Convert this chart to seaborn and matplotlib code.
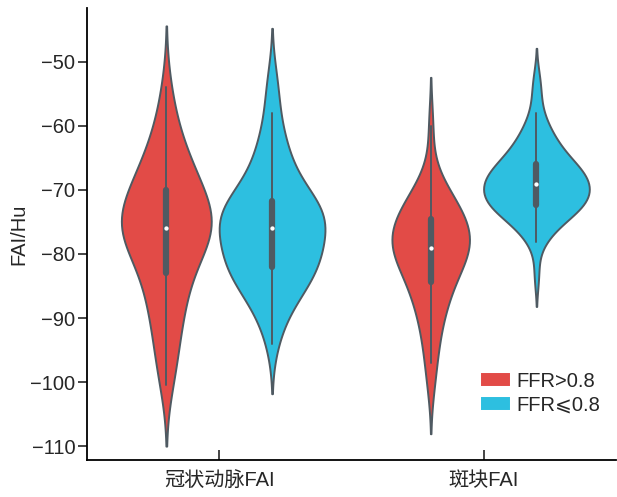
import numpy as np
import pandas as pd
import matplotlib
matplotlib.use("Agg")
import matplotlib.pyplot as plt
import seaborn as sns

# categories and groups
sites = ["冠状动脉FAI", "斑块FAI"]
groups = ["FFR>0.8", "FFR⩽0.8"]
colors = ["#E24B47", "#2DBFE0"]

# FAI values (Hu), one list per violin
coronary_high = [
    -100.5, -98.4, -96.2, -94.3, -92.6, -91.0, -89.6, -88.3, -87.1, -86.0,
    -85.0, -84.1, -83.3, -82.5, -81.3, -80.3, -79.5, -78.8, -78.3, -77.9,
    -77.5, -77.1, -76.8, -76.5, -76.2, -76.0, -75.6, -75.2, -74.8, -74.4,
    -74.0, -73.5, -73.0, -72.5, -71.9, -71.3, -70.7, -70.2, -69.8, -69.2,
    -68.5, -67.8, -67.0, -66.2, -65.3, -64.3, -63.1, -61.7, -60.0, -57.6,
    -53.9,
]
coronary_low = [
    -94.1, -91.5, -89.8, -88.5, -87.5, -86.6, -85.9, -85.3, -84.8, -84.3,
    -83.8, -83.4, -83.0, -82.6, -82.3, -82.0, -81.6, -81.2, -80.8, -80.4,
    -80.0, -79.6, -79.2, -78.8, -78.4, -78.0, -77.6, -77.2, -76.7, -76.2,
    -75.8, -75.5, -75.2, -74.9, -74.6, -74.3, -74.0, -73.7, -73.4, -73.1,
    -72.8, -72.5, -72.3, -72.1, -71.9, -71.4, -70.7, -70.0, -69.2, -68.4,
    -67.5, -66.6, -65.6, -64.6, -63.5, -62.2, -60.7, -58.0, -55.0, -52.5,
]
plaque_high = [
    -100.5, -97.0, -94.6, -92.6, -90.9, -89.5, -88.3, -87.2, -86.3, -85.5,
    -84.9, -84.3, -83.4, -82.6, -81.9, -81.3, -80.8, -80.4, -80.0, -79.7,
    -79.5, -79.3, -78.9, -78.5, -78.1, -77.7, -77.3, -76.9, -76.5, -76.1,
    -75.6, -75.1, -74.7, -74.3, -73.9, -73.5, -73.0, -72.5, -71.9, -71.2,
    -70.4, -69.3, -67.6, -60.0,
]
plaque_low = [
    -83.3, -78.1, -77.2, -76.4, -75.7, -75.1, -74.6, -74.2, -73.8, -73.5,
    -73.2, -73.0, -72.8, -72.7, -72.6, -72.3, -72.1, -71.9, -71.6, -71.4,
    -71.2, -71.0, -70.8, -70.6, -70.4, -70.2, -70.0, -69.8, -69.5, -69.2,
    -69.0, -68.8, -68.6, -68.4, -68.2, -68.0, -67.8, -67.6, -67.4, -67.2,
    -67.0, -66.8, -66.5, -66.3, -66.0, -65.6, -65.2, -64.8, -64.4, -64.0,
    -63.5, -63.0, -62.5, -61.9, -61.2, -60.4, -59.4, -58.0, -55.0, -52.8,
]

frames = []
for site, group, vals in [
    (sites[0], groups[0], coronary_high),
    (sites[0], groups[1], coronary_low),
    (sites[1], groups[0], plaque_high),
    (sites[1], groups[1], plaque_low),
]:
    frames.append(pd.DataFrame({"site": site, "group": group, "FAI": vals}))
df = pd.concat(frames, ignore_index=True)

sns.set_style("white")
plt.rcParams["font.family"] = ["Liberation Sans", "DejaVu Sans", "Noto Sans CJK SC"]

fig, ax = plt.subplots(figsize=(6.17, 4.97), dpi=100)
fig.subplots_adjust(left=0.141, right=0.998, bottom=0.074, top=0.984)

sns.violinplot(
    data=df, x="site", y="FAI", hue="group",
    order=sites, hue_order=groups, palette=colors, saturation=1,
    density_norm="count", common_norm=True, cut=2,
    linewidth=1.4, linecolor="#4F5A62",
    inner="box", inner_kws=dict(box_width=4.5, whis_width=1.4, marker="o", markersize=2.2),
    ax=ax,
)

ax.set_ylim(-112.2, -41.6)
ax.set_yticks(np.arange(-110, -49, 10))
ax.set_xlabel("")
ax.set_ylabel("FAI/Hu", fontsize=14.5, labelpad=1)
ax.tick_params(axis="y", left=True, direction="out", length=6.5, width=1.2,
               labelsize=14.5, pad=2)
ax.tick_params(axis="x", bottom=True, direction="in", length=7, width=1.2,
               labelsize=14.5, pad=8)
for side in ["top", "right"]:
    ax.spines[side].set_visible(False)
for side in ["left", "bottom"]:
    ax.spines[side].set_color("black")
    ax.spines[side].set_linewidth(1.3)

leg = ax.legend(loc="lower right", bbox_to_anchor=(1.005, 0.06), frameon=False,
                fontsize=14.5, handlelength=1.35, handleheight=0.45,
                handletextpad=0.35, labelspacing=0.25)
for h in leg.legend_handles:
    h.set_edgecolor(h.get_facecolor())

fig.savefig("out.png", dpi=100)
